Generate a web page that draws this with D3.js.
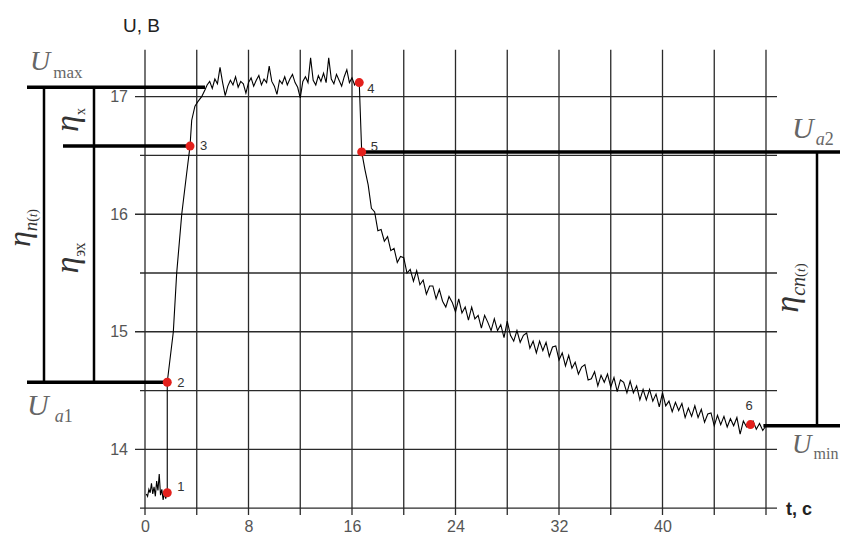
<!DOCTYPE html>
<html>
<head>
<meta charset="utf-8">
<script src="https://cdn.jsdelivr.net/npm/d3@7"></script>
<style>
  body { margin: 0; background: #fff; }
  .tick-label text { font-family: 'Liberation Sans', Arial, sans-serif; font-size: 16px; fill: #555; }
  .pt-label { font-family: 'Liberation Sans', Arial, sans-serif; font-size: 13px; fill: #333; }
  .serif { font-family: 'Liberation Serif', 'Times New Roman', serif; }
</style>
</head>
<body>
<div id="chart"></div>
<script>
// ---- data ----
const xTicks = [0, 8, 16, 24, 32, 40];
const yTicks = [14, 15, 16, 17];

// idle noise before the jump (t = 0.1 .. 1.6 s)
const preStart = 0.1, preStep = 0.1;
const preVolts = [13.62, 13.60, 13.66, 13.63, 13.71, 13.62, 13.68, 13.60,
  13.73, 13.65, 13.79, 13.61, 13.66, 13.57, 13.63, 13.58];

// jump 1 -> 2 and rise 2 -> 3 -> plateau
const riseTimes = [1.72, 1.72, 2.19, 2.45, 2.84, 3.2, 3.48, 3.61, 3.86, 4.1, 4.38, 4.64];
const riseVolts = [13.63, 14.57, 15.0, 15.5, 16.0, 16.33, 16.58, 16.80, 16.92, 16.96, 17.0, 17.06];

// plateau noise (t = 4.8 .. 16.4 s)
const plateauStart = 4.8, plateauStep = 0.2;
const plateauVolts = [17.10, 17.13, 17.07, 17.15, 17.11, 17.25, 17.12, 17.01,
  17.09, 17.14, 17.10, 17.17, 17.08, 17.13, 17.11, 17.03,
  17.12, 17.16, 17.09, 17.14, 17.18, 17.10, 17.15, 17.12,
  17.26, 17.13, 17.09, 17.02, 17.14, 17.11, 17.17, 17.10,
  17.15, 17.19, 17.12, 17.08, 16.99, 17.13, 17.17, 17.12,
  17.33, 17.14, 17.10, 17.18, 17.13, 17.20, 17.12, 17.33,
  17.15, 17.11, 17.19, 17.14, 17.09, 17.17, 17.23, 17.12,
  17.16, 17.10, 17.14];

// point 4, then the fall to 5 and the decay (t = 16.75 .. 48 s)
const dropTimes = [16.56];
const dropVolts = [17.12];
const decayStart = 16.75, decayStep = 0.25;
const decayVolts = [16.53, 16.38, 16.25, 16.05, 16.02, 15.86, 15.87, 15.77,
  15.81, 15.69, 15.71, 15.59, 15.64, 15.63, 15.50, 15.53,
  15.43, 15.52, 15.40, 15.44, 15.32, 15.39, 15.39, 15.28,
  15.36, 15.26, 15.21, 15.30, 15.25, 15.17, 15.28, 15.16,
  15.21, 15.10, 15.21, 15.11, 15.14, 15.03, 15.14, 15.08,
  15.01, 15.11, 15.01, 15.06, 14.95, 15.09, 14.97, 14.92,
  15.01, 14.91, 14.97, 14.99, 14.86, 14.92, 14.82, 14.92,
  14.84, 14.91, 14.79, 14.87, 14.88, 14.76, 14.82, 14.71,
  14.80, 14.69, 14.74, 14.64, 14.70, 14.72, 14.59, 14.60,
  14.66, 14.54, 14.63, 14.57, 14.64, 14.53, 14.61, 14.49,
  14.59, 14.57, 14.48, 14.58, 14.48, 14.54, 14.42, 14.51,
  14.42, 14.51, 14.41, 14.47, 14.36, 14.48, 14.37, 14.41,
  14.32, 14.40, 14.33, 14.39, 14.27, 14.35, 14.28, 14.37,
  14.27, 14.34, 14.23, 14.30, 14.31, 14.20, 14.29, 14.21,
  14.28, 14.19, 14.26, 14.20, 14.27, 14.13, 14.24, 14.19,
  14.21, 14.24, 14.17, 14.22, 14.16, 14.20];

// marked points 1..6
const pointNames = ['1', '2', '3', '4', '5', '6'];
const pointTimes = [1.72, 1.72, 3.48, 16.56, 16.75, 46.8];
const pointVolts = [13.63, 14.57, 16.58, 17.12, 16.53, 14.21];

// reference levels
const uMax = 17.08, u3 = 16.58, uA1 = 14.57, uA2 = 16.53, uMin = 14.20;

// ---- layout ----
const W = 845, H = 535;
const x = d3.scaleLinear().domain([0, 48]).range([145, 766]);
const y = d3.scaleLinear().domain([14, 17]).range([449.3, 96.7]);
const pointLabelOffset = [[10, -2], [10, 5], [10, 4], [8, 10], [9, -1], [-5, -15]];

const svg = d3.select('#chart').append('svg')
  .attr('width', W).attr('height', H);

// build the trace
let trace = [];
preVolts.forEach((v, i) => trace.push([preStart + i * preStep, v]));
riseVolts.forEach((v, i) => trace.push([riseTimes[i], v]));
plateauVolts.forEach((v, i) => trace.push([plateauStart + i * plateauStep, v]));
dropVolts.forEach((v, i) => trace.push([dropTimes[i], v]));
decayVolts.forEach((v, i) => trace.push([decayStart + i * decayStep, v]));

// grid
const grid = svg.append('g').attr('stroke', '#2a2a2a').attr('stroke-width', 1.3);
grid.selectAll('.vline')
  .data(d3.range(0, 48.01, 4))
  .enter().append('line')
  .attr('x1', d => x(d)).attr('x2', d => x(d))
  .attr('y1', y(17.4)).attr('y2', y(13.5) + 7);
grid.selectAll('.hline')
  .data(d3.range(13.5, 17.01, 0.5))
  .enter().append('line')
  .attr('x1', d => (d % 1 === 0) ? 135 : 140).attr('x2', 777)
  .attr('y1', d => y(d)).attr('y2', d => y(d));

// tick labels
svg.append('g')
  .attr('class', 'tick-label')
  .attr('transform', 'translate(135,0)')
  .call(d3.axisLeft(y).tickValues(yTicks).tickFormat(d3.format('d')).tickSize(0).tickPadding(7))
  .call(g => g.select('.domain').remove())
  .selectAll('text').attr('font-family', null).attr('font-size', null);

svg.append('g')
  .attr('class', 'tick-label')
  .attr('transform', `translate(0,${y(13.5)})`)
  .call(d3.axisBottom(x).tickValues(xTicks).tickFormat(d3.format('d')).tickSize(0).tickPadding(13))
  .call(g => g.select('.domain').remove())
  .selectAll('text').attr('font-family', null).attr('font-size', null);

// axis titles
svg.append('text')
  .attr('x', 123).attr('y', 32)
  .attr('font-family', 'Liberation Sans, Arial, sans-serif')
  .attr('font-size', 19).attr('fill', '#222')
  .text('U, B');
svg.append('text')
  .attr('x', 786).attr('y', 515)
  .attr('font-family', 'Liberation Sans, Arial, sans-serif')
  .attr('font-size', 18).attr('font-weight', 'bold').attr('fill', '#222')
  .text('t, c');

// annotation lines
const ann = svg.append('g').attr('stroke', '#000');
ann.append('line').attr('stroke-width', 3.5)
  .attr('x1', 27).attr('x2', x(4.64)).attr('y1', y(uMax)).attr('y2', y(uMax));
ann.append('line').attr('stroke-width', 3.5)
  .attr('x1', 63).attr('x2', x(pointTimes[2])).attr('y1', y(u3)).attr('y2', y(u3));
ann.append('line').attr('stroke-width', 3.5)
  .attr('x1', 27).attr('x2', x(pointTimes[1])).attr('y1', y(uA1)).attr('y2', y(uA1));
ann.append('line').attr('stroke-width', 2.5)
  .attr('x1', 44).attr('x2', 44).attr('y1', y(uMax)).attr('y2', y(uA1));
ann.append('line').attr('stroke-width', 2.5)
  .attr('x1', 94).attr('x2', 94).attr('y1', y(uMax)).attr('y2', y(uA1));
ann.append('line').attr('stroke-width', 3.5)
  .attr('x1', x(pointTimes[4])).attr('x2', 840).attr('y1', y(uA2)).attr('y2', y(uA2));
ann.append('line').attr('stroke-width', 3.5)
  .attr('x1', x(47.8)).attr('x2', 840).attr('y1', y(uMin)).attr('y2', y(uMin));
ann.append('line').attr('stroke-width', 2.5)
  .attr('x1', 817).attr('x2', 817).attr('y1', y(uA2)).attr('y2', y(uMin));

// trace
svg.append('path')
  .datum(trace)
  .attr('fill', 'none')
  .attr('stroke', '#000')
  .attr('stroke-width', 1.1)
  .attr('d', d3.line().x(d => x(d[0])).y(d => y(d[1])));

// marked points
svg.selectAll('.pt')
  .data(pointNames)
  .enter().append('circle')
  .attr('cx', (d, i) => x(pointTimes[i]))
  .attr('cy', (d, i) => y(pointVolts[i]))
  .attr('r', 4.5)
  .attr('fill', '#e3201c');
svg.selectAll('.pt-label')
  .data(pointNames)
  .enter().append('text')
  .attr('class', 'pt-label')
  .attr('x', (d, i) => x(pointTimes[i]) + pointLabelOffset[i][0])
  .attr('y', (d, i) => y(pointVolts[i]) + pointLabelOffset[i][1])
  .text(d => d);

// level labels  U_max, U_a1, U_a2, U_min
function uLabel(px, py, size, subParts, subSize, dx, dy) {
  const t = svg.append('text').attr('class', 'serif')
    .attr('x', px).attr('y', py).attr('fill', '#666');
  t.append('tspan').attr('font-size', size).attr('font-style', 'italic').text('U');
  subParts.forEach((p, i) => {
    const s = t.append('tspan').attr('font-size', subSize)
      .attr('font-style', p.italic ? 'italic' : 'normal').text(p.text);
    if (i === 0) s.attr('dx', dx).attr('dy', dy);
  });
}
uLabel(30, 70, 28, [{ text: 'max' }], 17, 3, 8);
uLabel(27, 415, 30, [{ text: 'a', italic: true }, { text: '1' }], 18, 6, 7);
uLabel(792, 138, 30, [{ text: 'a', italic: true }, { text: '2' }], 18, 2, 7);
uLabel(792, 453, 27, [{ text: 'min' }], 16, 2, 6);

// rotated efficiency labels
function etaLabel(bx, cy, size, subParts) {
  const t = svg.append('text').attr('class', 'serif')
    .attr('transform', `translate(${bx},${cy}) rotate(-90)`)
    .attr('text-anchor', 'middle')
    .attr('fill', '#333');
  t.append('tspan').attr('font-size', size).attr('font-style', 'italic').text('η');
  subParts.forEach((p, i) => {
    const s = t.append('tspan').attr('font-size', p.size)
      .attr('font-style', p.italic ? 'italic' : 'normal').text(p.text);
    if (i === 0) s.attr('dy', 7);
  });
}
etaLabel(78, 120, 34, [{ text: 'х', size: 14 }]);
etaLabel(78, 258, 34, [{ text: 'эх', size: 16 }]);
etaLabel(30, 228, 32, [{ text: 'n', size: 19, italic: true }, { text: '(', size: 14 },
  { text: 't', size: 12, italic: true }, { text: ')', size: 14 }]);
etaLabel(798, 288, 34, [{ text: 'cn', size: 20, italic: true }, { text: '(', size: 15 },
  { text: 't', size: 13, italic: true }, { text: ')', size: 15 }]);
</script>
</body>
</html>
